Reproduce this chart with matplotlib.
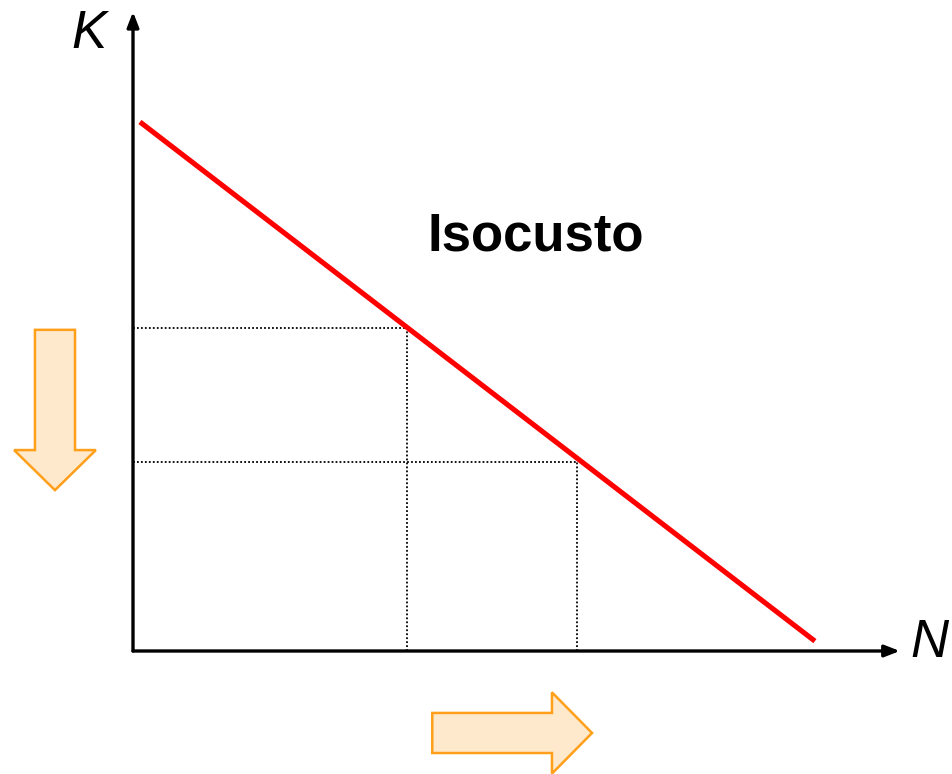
import matplotlib
matplotlib.use('Agg')
from matplotlib import pyplot as plt
from matplotlib.patches import FancyArrow

# isocusto: K = K0 - (K0 / N0) * N
K0 = 10.0
N0 = 13.0
line_n = [0.13, 12.76]           # extremos do segmento desenhado
line_k = [K0 - K0 / N0 * n for n in line_n]
points_n = [5.13, 8.31]          # duas combinações de N e K na isocusto
points_k = [6.04, 3.54]

px = 53.44  # pixels por unidade
fig = plt.figure(figsize=(9.52, 7.74), dpi=100)
ax = fig.add_axes([0, 0, 1, 1])
ax.set_xlim(-133 / px, (952 - 133) / px)
ax.set_ylim(-(774 - 651) / px, 651 / px)
ax.axis('off')

# eixos
ax.annotate('', xy=(14.35, 0), xytext=(0, 0),
            arrowprops=dict(arrowstyle='-|>,head_length=0.9,head_width=0.35',
                            color='black', lw=2.4, shrinkA=0, shrinkB=0))
ax.annotate('', xy=(0, 11.96), xytext=(0, 0),
            arrowprops=dict(arrowstyle='-|>,head_length=0.9,head_width=0.35',
                            color='black', lw=2.4, shrinkA=0, shrinkB=0))

# linhas pontilhadas
for n, k in zip(points_n, points_k):
    ax.plot([0, n], [k, k], color='black', lw=1.3, ls=(0, (1, 1.2)))
    ax.plot([n, n], [0, k], color='black', lw=1.3, ls=(0, (1, 1.2)))

# isocusto
ax.plot(line_n, line_k, color='#ff0000', lw=3.7, solid_capstyle='butt')

ax.text(7.53, 7.75, 'Isocusto', fontsize=38, fontweight='bold',
        family='Liberation Sans', ha='center', va='center')
ax.text(-0.82, 11.55, 'K', fontsize=38, style='italic',
        family='Liberation Sans', ha='center', va='center')
ax.text(14.9, 0.15, 'N', fontsize=38, style='italic',
        family='Liberation Sans', ha='center', va='center')

# setas laranja
fill = '#ffe9cc'
edge = '#ff9f1a'
ax.add_patch(FancyArrow(-1.46, 6.01, 0, -3.0, width=0.75, head_width=1.53,
                        head_length=0.75, length_includes_head=True,
                        facecolor=fill, edgecolor=edge, lw=1.8))
ax.add_patch(FancyArrow(5.6, -1.534, 2.99, 0, width=0.75, head_width=1.52,
                        head_length=0.75, length_includes_head=True,
                        facecolor=fill, edgecolor=edge, lw=1.8))

plt.savefig('out.png', dpi=100)
